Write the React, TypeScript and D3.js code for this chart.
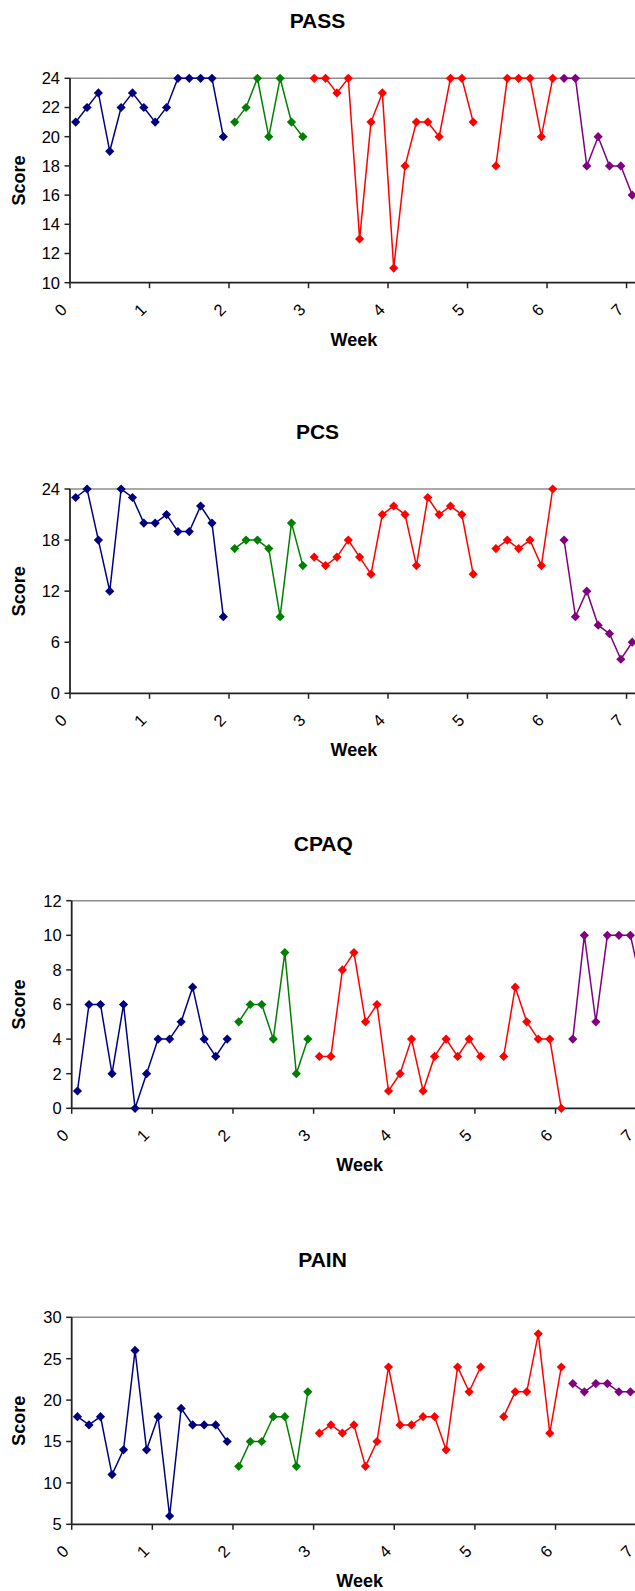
import React from "react";
import * as d3 from "d3";

// Daily scores (50 days), null = missing day
const PASS = [21, 22, 23, 19, 22, 23, 22, 21, 22, 24, 24, 24, 24, 20, 21, 22, 24, 20, 24, 21, 20, 24, 24, 23, 24, 13, 21, 23, 11, 18, 21, 21, 20, 24, 24, 21, null, 18, 24, 24, 24, 20, 24, 24, 24, 18, 20, 18, 18, 16];
const PCS = [23, 24, 18, 12, 24, 23, 20, 20, 21, 19, 19, 22, 20, 9, 17, 18, 18, 17, 9, 20, 15, 16, 15, 16, 18, 16, 14, 21, 22, 21, 15, 23, 21, 22, 21, 14, null, 17, 18, 17, 18, 15, 24, 18, 9, 12, 8, 7, 4, 6];
const CPAQ = [1, 6, 6, 2, 6, 0, 2, 4, 4, 5, 7, 4, 3, 4, 5, 6, 6, 4, 9, 2, 4, 3, 3, 8, 9, 5, 6, 1, 2, 4, 1, 3, 4, 3, 4, 3, null, 3, 7, 5, 4, 4, 0, 4, 10, 5, 10, 10, 10, 7];
const PAIN = [18, 17, 18, 11, 14, 26, 14, 18, 6, 19, 17, 17, 17, 15, 12, 15, 15, 18, 18, 12, 21, 16, 17, 16, 17, 12, 15, 24, 17, 17, 18, 18, 14, 24, 21, 24, null, 18, 21, 21, 28, 16, 24, 22, 21, 22, 22, 21, 21, 21];

// Phases (day index ranges) and their colours
const PHASE_START = [0, 14, 21, 43];
const PHASE_END = [13, 20, 42, 49];
const PHASE_COLORS = ["#000080", "#008000", "#FF0000", "#800080"];

const WEEK_TICKS = [0, 1, 2, 3, 4, 5, 6, 7];
const N_DAYS = 50;

const FONT = "'Liberation Sans', Arial, Helvetica, sans-serif";

type ChartCfg = {
  title: string;
  values: (number | null)[];
  yDomain: [number, number];
  yTicks: number[];
  top: number;
  bottom: number;
  left: number;
  right: number;
  titleX: number;
  titleY: number;
};

const charts: ChartCfg[] = [
  { title: "PASS", values: PASS, yDomain: [10, 24], yTicks: d3.range(10, 25, 2), top: 78.3, bottom: 282.7, left: 70, right: 637.9, titleX: 317.5, titleY: 27.7 },
  { title: "PCS", values: PCS, yDomain: [0, 24], yTicks: d3.range(0, 25, 6), top: 489, bottom: 693.3, left: 70, right: 637.9, titleX: 317.5, titleY: 439.3 },
  { title: "CPAQ", values: CPAQ, yDomain: [0, 12], yTicks: d3.range(0, 13, 2), top: 900.7, bottom: 1108.3, left: 71.7, right: 647.7, titleX: 323.3, titleY: 850.7 },
  { title: "PAIN", values: PAIN, yDomain: [5, 30], yTicks: d3.range(5, 31, 5), top: 1317.3, bottom: 1524.3, left: 71.7, right: 647.7, titleX: 322.5, titleY: 1266.7 },
];

const DIAMOND = "M0,-4.6L4.6,0L0,4.6L-4.6,0Z";

function Chart({ cfg }: { cfg: ChartCfg }) {
  const x = d3.scaleLinear().domain([0, N_DAYS / 7]).range([cfg.left, cfg.right]);
  const y = d3.scaleLinear().domain(cfg.yDomain).range([cfg.bottom, cfg.top]);
  const dayX = (i: number) => x((i + 0.5) / 7);
  const line = d3
    .line<number>()
    .defined((i) => cfg.values[i] != null)
    .x((i) => dayX(i))
    .y((i) => y(cfg.values[i] as number));
  const cy = (cfg.top + cfg.bottom) / 2;
  const cx = (cfg.left + cfg.right) / 2;
  return (
    <g>
      <text x={cfg.titleX} y={cfg.titleY} textAnchor="middle" fontFamily={FONT} fontWeight="bold" fontSize={21} fill="#000">
        {cfg.title}
      </text>
      {/* top border line */}
      <line x1={cfg.left} x2={cfg.right} y1={y(cfg.yDomain[1])} y2={y(cfg.yDomain[1])} stroke="#8c8c8c" strokeWidth={1.5} />
      {/* y axis */}
      <line x1={cfg.left} x2={cfg.left} y1={cfg.top} y2={cfg.bottom} stroke="#222" strokeWidth={1.8} />
      {cfg.yTicks.map((t) => (
        <g key={"y" + t}>
          <line x1={cfg.left - 5.5} x2={cfg.left} y1={y(t)} y2={y(t)} stroke="#222" strokeWidth={1.5} />
          <text x={cfg.left - 10} y={y(t)} dy="0.36em" textAnchor="end" fontFamily={FONT} fontSize={16.5} fill="#000">
            {t}
          </text>
        </g>
      ))}
      {/* x axis */}
      <line x1={cfg.left} x2={cfg.right} y1={cfg.bottom} y2={cfg.bottom} stroke="#222" strokeWidth={1.8} />
      {WEEK_TICKS.map((w) => (
        <g key={"x" + w}>
          <line x1={x(w)} x2={x(w)} y1={cfg.bottom} y2={cfg.bottom + 5.5} stroke="#222" strokeWidth={1.5} />
          <text
            transform={`translate(${x(w) - 9.5},${cfg.bottom + 27}) rotate(-45)`}
            textAnchor="middle"
            dy="0.36em"
            fontFamily={FONT}
            fontSize={16.5}
            fill="#000"
          >
            {w}
          </text>
        </g>
      ))}
      <text x={cx} y={cfg.bottom + 63} textAnchor="middle" fontFamily={FONT} fontWeight="bold" fontSize={18} fill="#000">
        Week
      </text>
      <text transform={`translate(25,${cy}) rotate(-90)`} textAnchor="middle" fontFamily={FONT} fontWeight="bold" fontSize={18} fill="#000">
        Score
      </text>
      {PHASE_START.map((s, p) => {
        const idx = d3.range(s, PHASE_END[p] + 1);
        return (
          <g key={"p" + p}>
            <path d={line(idx) || ""} fill="none" stroke={PHASE_COLORS[p]} strokeWidth={1.5} />
            {idx
              .filter((i) => cfg.values[i] != null)
              .map((i) => (
                <path key={i} d={DIAMOND} transform={`translate(${dayX(i)},${y(cfg.values[i] as number)})`} fill={PHASE_COLORS[p]} />
              ))}
          </g>
        );
      })}
    </g>
  );
}

export default function App() {
  return (
    <svg width={635} height={1591} style={{ position: "absolute", left: 0, top: 0, background: "#fff" }}>
      <rect width={635} height={1591} fill="#fff" />
      {charts.map((c) => (
        <Chart key={c.title} cfg={c} />
      ))}
    </svg>
  );
}
